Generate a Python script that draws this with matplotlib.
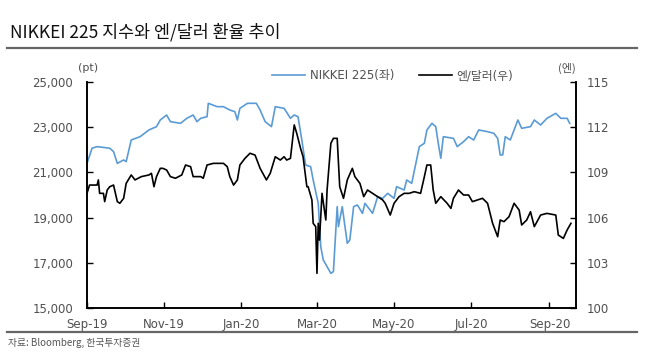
import matplotlib
matplotlib.use('Agg')
import matplotlib.pyplot as plt
import pandas as pd

plt.rcParams['font.family'] = ['DejaVu Sans', 'Noto Sans CJK KR']

# ── data (days counted from 2019-09-01) ──
nk_day = [0, 4, 8, 18, 21, 24, 29, 31, 35, 42, 49, 55, 58, 63, 66, 74, 79, 84, 87, 90,
          95, 96, 103, 108, 113, 117, 119, 121, 127, 134, 137, 141, 146, 149, 156, 161, 164, 167, 170, 173,
          177, 179, 183, 185, 187, 193, 195, 198, 199, 202, 206, 208, 211, 214, 218, 220, 226, 230, 234, 238,
          243, 245, 251, 253, 257, 263, 267, 269, 273, 276, 278, 280, 282, 290, 293, 298, 302, 306, 310, 317,
          322, 325, 327, 329, 331, 335, 341, 344, 351, 354, 359, 364, 371, 375, 380, 382]
nk_val = [21400, 22070, 22140, 22070, 21920, 21400, 21550, 21475, 22434, 22580, 22877, 23025, 23319, 23540, 23245, 23172, 23393, 23540, 23245, 23393,
          23466, 24057, 23908, 23908, 23761, 23687, 23319, 23835, 24057, 24057, 23761, 23245, 23025, 23908, 23835, 23393, 23540, 23466, 22434, 21328,
          21254, 20664, 19631, 17714, 17124, 16534, 16608, 19484, 18598, 19484, 17862, 18009, 19484, 19558, 19189, 19631, 19189, 19927, 19853, 20074,
          19853, 20369, 20222, 20664, 20517, 22140, 22288, 22877, 23172, 23025, 22288, 21624, 22580, 22508, 22140, 22360, 22580, 22434, 22877, 22802,
          22729, 22508, 21771, 21771, 22580, 22434, 23319, 22951, 23025, 23319, 23098, 23393, 23614, 23393, 23393, 23172]

fx_day = [0, 2, 8, 9, 10, 13, 14, 16, 18, 21, 24, 26, 29, 31, 35, 38, 43, 49, 51, 53,
          55, 58, 60, 63, 66, 70, 75, 78, 82, 84, 90, 92, 95, 100, 108, 111, 113, 116, 119, 121,
          125, 129, 133, 137, 142, 145, 149, 153, 156, 158, 161, 164, 166, 169, 171, 174, 175, 178, 179, 181,
          182, 183, 184, 186, 189, 190, 193, 195, 198, 200, 203, 206, 210, 212, 216, 219, 222, 226, 230, 234,
          236, 240, 243, 247, 251, 255, 259, 264, 267, 269, 272, 274, 276, 280, 285, 288, 290, 294, 298, 302,
          305, 309, 313, 317, 321, 325, 327, 330, 334, 338, 342, 344, 348, 351, 354, 359, 364, 371, 373, 377,
          380, 383]
fx_val = [107.61, 108.16, 108.16, 108.50, 107.61, 107.61, 107.06, 107.83, 108.05, 108.16, 107.06, 106.95, 107.28, 108.27, 108.83, 108.50, 108.72, 108.83, 108.94, 108.05,
          108.72, 109.27, 109.27, 109.16, 108.72, 108.61, 108.83, 109.49, 109.38, 108.72, 108.72, 108.61, 109.49, 109.60, 109.60, 109.38, 108.72, 108.16, 108.50, 109.49,
          109.93, 110.27, 110.15, 109.27, 108.50, 108.94, 110.04, 109.82, 110.04, 109.82, 109.93, 112.15, 111.59, 110.60, 110.04, 108.05, 108.05, 107.17, 105.62, 105.40,
          102.30, 105.62, 104.51, 107.61, 105.84, 107.83, 110.93, 111.26, 111.26, 108.05, 107.28, 108.50, 109.27, 108.72, 108.27, 107.39, 107.83, 107.61, 107.39, 107.17,
          106.95, 106.17, 106.95, 107.39, 107.61, 107.61, 107.72, 107.61, 108.72, 109.49, 109.49, 107.83, 106.95, 107.39, 106.95, 106.61, 107.28, 107.83, 107.50, 107.50,
          107.06, 107.17, 107.28, 106.95, 105.62, 104.73, 105.84, 105.73, 106.06, 106.95, 106.50, 105.51, 105.84, 106.39, 105.40, 106.17, 106.28, 106.17, 104.84, 104.62,
          105.18, 105.62]

tick_dates = ['2019-09-01', '2019-11-01', '2020-01-01', '2020-03-01', '2020-05-01', '2020-07-01', '2020-09-01']
tick_labels = ['Sep-19', 'Nov-19', 'Jan-20', 'Mar-20', 'May-20', 'Jul-20', 'Sep-20']

start = pd.Timestamp('2019-09-01')
nk_dates = start + pd.to_timedelta(nk_day, unit='D')
fx_dates = start + pd.to_timedelta(fx_day, unit='D')

blue = '#5B9BD5'
txt = '#505050'

fig = plt.figure(figsize=(6.5, 3.55), dpi=100)
ax = fig.add_axes([87 / 650, 1 - 308 / 355, (576 - 87) / 650, (308 - 82) / 355])
ax2 = ax.twinx()

ax.plot(nk_dates, nk_val, color=blue, lw=1.2, label='NIKKEI 225(좌)')
ax2.plot(fx_dates, fx_val, color='black', lw=1.2, label='엔/달러(우)')

ax.set_xlim(pd.Timestamp('2019-09-01'), pd.Timestamp('2020-09-22'))
ax.set_ylim(15000, 25000)
ax.set_yticks(range(15000, 25001, 2000))
ax.set_yticklabels([f'{v:,}' for v in range(15000, 25001, 2000)])
ax2.set_ylim(100, 115)
ax2.set_yticks(range(100, 116, 3))

ax.set_xticks(pd.to_datetime(tick_dates))
ax.set_xticklabels(tick_labels)

for a in (ax, ax2):
    a.spines['top'].set_visible(False)
    for s in ('left', 'right', 'bottom'):
        a.spines[s].set_linewidth(1.2)
    a.tick_params(direction='in', length=4, width=1, labelsize=8.5, labelcolor=txt)
ax.tick_params(axis='y', pad=10)
ax.tick_params(axis='x', pad=7)
ax2.tick_params(axis='y', pad=8)

fig.text(88 / 650, 1 - 68 / 355, '(pt)', ha='center', va='center', fontsize=8, color=txt)
fig.text(567 / 650, 1 - 68 / 355, '(엔)', ha='center', va='center', fontsize=8, color=txt,
         family=['Noto Sans CJK KR'])

h1, l1 = ax.get_legend_handles_labels()
h2, l2 = ax2.get_legend_handles_labels()
fig.legend(h1 + h2, l1 + l2, loc='center left', bbox_to_anchor=(272 / 650, 1 - 76 / 355),
           ncol=2, frameon=False, fontsize=8.5, borderpad=0, borderaxespad=0,
           handlelength=2.8, handletextpad=0.4, columnspacing=2.1, labelcolor=txt)

# title + separator lines
fig.text(10 / 650, 1 - 32 / 355, 'NIKKEI 225 지수와 엔/달러 환율 추이', ha='left', va='center',
         fontsize=12.5, color='#111111', family=['Noto Sans CJK KR'])
fig.add_artist(plt.Line2D([7 / 650, 637 / 650], [1 - 48 / 355] * 2, color='#666666', lw=1.6))
fig.add_artist(plt.Line2D([7 / 650, 637 / 650], [1 - 332 / 355] * 2, color='#666666', lw=1.6))
fig.text(8 / 650, 1 - 343 / 355, '자료: Bloomberg, 한국투자증권', ha='left', va='center',
         fontsize=7, color='#555555', family=['Noto Sans CJK KR', 'DejaVu Sans'])

fig.savefig('out.png', dpi=100)
